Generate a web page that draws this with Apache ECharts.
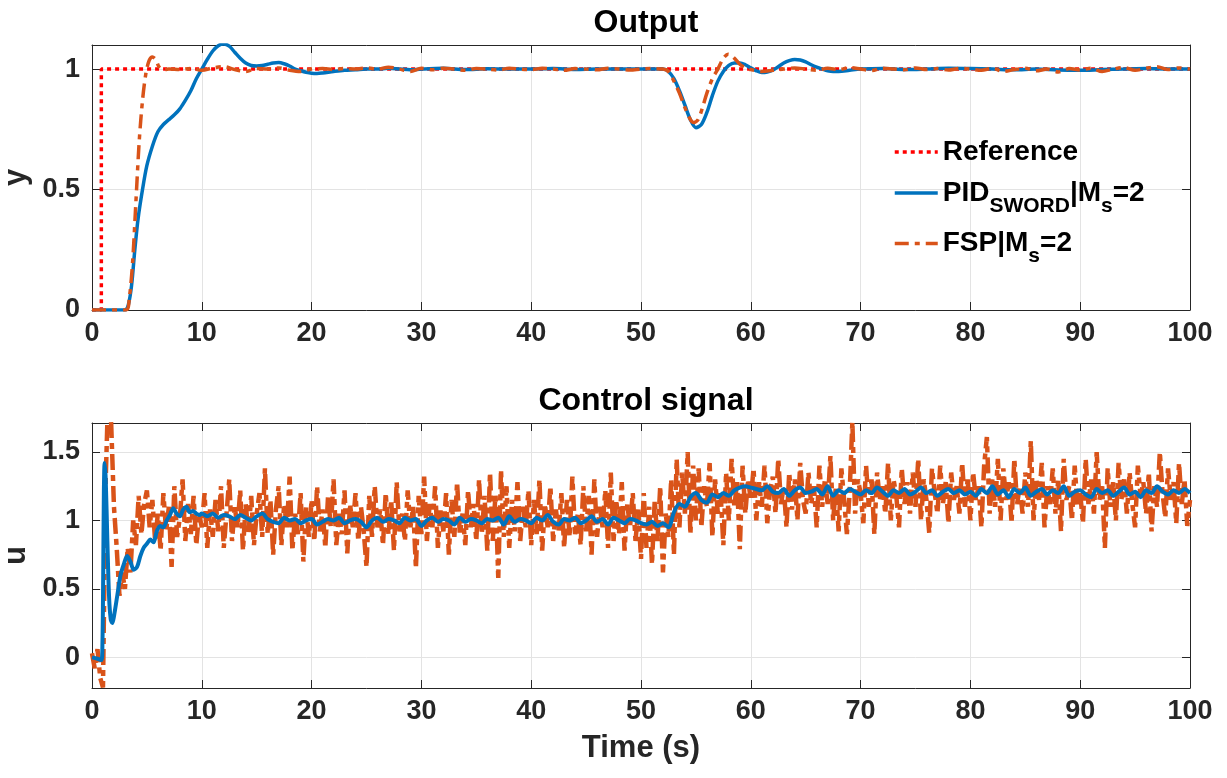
<!DOCTYPE html>
<html><head><meta charset="utf-8">
<script src="https://cdn.jsdelivr.net/npm/echarts@6/dist/echarts.min.js"></script>
<style>html,body{margin:0;padding:0;background:#fff}#c{width:1227px;height:778px}</style>
</head><body><div id="c"></div>
<script>
// ---------- data ----------
const xTickLabels = [0,10,20,30,40,50,60,70,80,90,100];
const yTickLabels = [0, 0.5, 1];
const uTickLabels = [0, 0.5, 1, 1.5];

const refT = [0, 0.85, 0.85, 100];
const refY = [0, 0, 1, 1];

const pidYT = [0,3.0,3.3,3.6,3.9,4.2,4.6,5.0,5.5,6.0,6.5,7.0,7.5,8.0,8.5,9.0,9.5,10.0,10.5,11.0,11.5,12.0,12.5,13.0,13.5,14.0,14.5,15.0,15.5,16.0,16.5,17.0,17.5,18.0,18.5,19.0,19.5,20.0,20.5,21.0,22,23,24,25,26,27,28,29,30,32,34,36,38,40,42,44,46,48,50,52,52.5,53,53.5,54,54.5,55,55.5,56,56.5,57,57.5,58,58.5,59,59.5,60,60.5,61,61.5,62,62.5,63,63.5,64,64.5,65,65.5,66,66.5,67,67.5,68,69,70,72,74,76,78,80,82,84,86,88,90,92,94,96,98,100];
const pidY  = [0,0,0.02,0.1,0.25,0.38,0.5,0.6,0.68,0.74,0.77,0.79,0.81,0.835,0.87,0.91,0.96,1.0,1.04,1.075,1.097,1.104,1.095,1.07,1.045,1.025,1.015,1.013,1.015,1.02,1.025,1.027,1.022,1.013,1.0,0.993,0.987,0.983,0.982,0.984,0.99,0.995,0.997,1.0,1.0,1.003,1.0,0.997,1.0,1.003,0.998,1.001,1.0,1.0,1.002,0.998,1.0,1.0,1.0,1.0,0.99,0.96,0.91,0.85,0.79,0.757,0.77,0.82,0.89,0.95,0.99,1.015,1.025,1.025,1.018,1.005,0.993,0.986,0.988,0.995,1.01,1.025,1.035,1.04,1.038,1.03,1.018,1.008,1.0,0.993,0.99,0.99,0.995,1.0,1.002,0.998,1.0,1.003,1.002,1.0,0.997,1.0,0.996,0.995,0.998,1.0,1.002,1.0,1.0];

const fspYT = [0,3.1,3.4,3.7,4.0,4.3,4.6,4.9,5.2,5.5,5.8,6.1,6.5,7,8,9,10,11,12,13,14,15,16,17,18,19,20,21,22,23,24,25,26,27,28,29,30,31,32,33,34,35,36,37,38,39,40,41,42,43,44,45,46,47,48,49,50,51,52,52.5,53,53.5,54,54.5,54.8,55.2,55.6,56,56.5,57,57.5,57.95,58.4,59,59.5,60,61,62,63,64,65,66,67,68,69,70,71,72,73,74,75,76,77,78,79,80,81,82,83,84,85,86,87,88,89,90,91,92,93,94,95,96,97,98,99,100];
const fspY  = [0,0,0.05,0.2,0.45,0.7,0.87,0.98,1.035,1.05,1.04,1.01,0.997,1.0,0.998,1.003,0.995,1.005,1.01,0.998,0.99,1.002,1.0,1.005,0.995,0.99,1.0,1.002,0.998,1.003,1.0,1.005,1.0,1.008,1.0,0.99,1.003,0.997,1.004,1.0,0.995,1.002,1.0,0.996,1.004,1.0,0.998,1.003,1.0,0.995,1.002,1.0,0.997,1.004,1.0,0.996,1.0,1.002,1.0,0.99,0.95,0.9,0.84,0.79,0.778,0.79,0.84,0.9,0.96,1.0,1.045,1.062,1.05,1.02,1.005,0.998,0.99,0.995,1.0,1.005,1.0,0.995,1.003,0.998,1.006,1.0,0.994,1.004,1.0,0.997,1.005,0.998,1.002,0.996,1.003,1.0,0.995,1.004,0.99,0.998,1.003,0.993,1.0,0.988,1.002,0.996,1.004,0.99,1.0,1.006,0.995,1.003,1.01,0.998,1.005,1.0,0.995,1.012,1.0,0.996,1.0];

// control signal, PID (early detail then 0.5 s samples from t = 10)
const pidUEarlyT = [0,0.5,0.85,0.95,1.02,1.08,1.15,1.25,1.4,1.55,1.7,1.85,2.0,2.3,2.6,2.9,3.2,3.5,3.8,4.1,4.4,4.7,5.0,5.3,5.6,5.9,6.2,6.5,6.8,7.1,7.4,7.7,8.0,8.3,8.6,8.9,9.2,9.5,9.8];
const pidUEarly  = [0,-0.01,-0.02,0.1,0.6,1.2,1.42,1.3,0.85,0.45,0.28,0.25,0.3,0.45,0.6,0.68,0.74,0.7,0.64,0.66,0.74,0.8,0.83,0.86,0.84,0.92,0.96,0.95,1.0,1.04,1.09,1.05,1.03,1.08,1.1,1.06,1.07,1.05,1.04];
const pidULateStart = 10, pidULateStep = 0.5;
const pidULate = [
1.05,1.03,1.05,1.02,1.04,1.03,1.01,1.04,1.02,1.0,1.03,1.05,1.01,0.99,0.98,1.02,1.0,1.01,0.98,1.0,
1.01,0.97,0.99,1.01,1.0,1.02,0.98,1.0,1.01,0.99,0.95,1.0,1.02,0.99,1.01,1.0,0.98,1.02,1.0,1.01,
0.96,1.0,1.02,0.99,1.01,1.0,0.97,1.02,0.99,1.01,1.0,0.98,1.01,1.0,1.02,0.97,1.03,0.99,1.01,1.0,
0.98,1.02,1.0,1.04,0.99,0.97,1.01,1.0,1.02,0.98,1.0,1.03,0.99,1.01,0.97,1.02,1.0,0.98,1.01,1.0,
0.98,0.97,0.99,0.96,0.98,0.95,1.06,1.12,1.1,1.17,1.2,1.15,1.13,1.19,1.17,1.2,1.18,1.22,1.24,1.25,
1.24,1.23,1.22,1.25,1.21,1.2,1.23,1.18,1.22,1.24,1.2,1.21,1.23,1.19,1.25,1.18,1.22,1.2,1.23,1.21,
1.19,1.22,1.2,1.24,1.21,1.18,1.22,1.2,1.23,1.19,1.21,1.24,1.2,1.22,1.18,1.21,1.23,1.2,1.22,1.19,
1.21,1.18,1.23,1.2,1.25,1.19,1.22,1.17,1.23,1.2,1.24,1.18,1.21,1.23,1.19,1.22,1.2,1.25,1.18,1.21,
1.22,1.19,1.17,1.23,1.2,1.22,1.18,1.21,1.24,1.19,1.21,1.17,1.22,1.2,1.25,1.21,1.19,1.22,1.2,1.23,
1.2];

// control signal, FSP (0.25 s samples from t = 0)
const fspUStart = 0, fspUStep = 0.25;
const fspU = [
0.03,-0.08,0.06,-0.15,-0.22,1.3,2.0,1.7,1.1,0.8,0.45,0.62,0.5,0.8,0.62,1.0,0.82,1.18,0.9,1.12,
1.22,0.95,1.15,0.85,1.05,0.78,1.2,0.92,1.1,0.66,1.25,0.88,1.02,1.3,0.85,1.12,0.9,1.18,0.82,1.05,
0.95,1.2,0.8,1.08,0.88,1.15,0.92,1.25,0.8,1.05,1.3,0.85,1.1,0.95,1.22,0.78,1.12,0.9,1.18,0.82,
1.05,1.2,0.88,1.38,0.9,1.15,0.75,1.08,1.25,0.82,1.12,0.95,1.32,0.78,1.05,0.9,1.2,0.7,1.1,0.88,
1.15,0.85,1.25,0.92,1.08,0.8,1.18,0.95,1.3,0.82,1.05,0.9,1.22,0.76,1.12,0.95,1.2,0.85,1.1,0.92,
0.66,1.18,0.88,1.25,0.95,1.08,0.82,1.2,0.9,1.15,0.78,1.28,0.92,1.05,0.85,1.22,0.95,1.1,0.65,1.18,
0.9,1.32,0.85,1.12,0.95,1.25,0.8,1.08,0.92,1.2,0.75,1.15,0.88,1.28,0.9,1.05,0.82,1.22,0.95,1.12,
0.85,1.3,0.9,1.18,0.78,1.35,0.85,1.2,0.58,1.37,0.88,1.25,0.8,1.15,0.92,1.28,0.85,1.1,0.95,1.22,
0.82,1.15,0.9,1.3,0.78,1.12,0.95,1.25,0.85,1.08,0.92,1.2,0.8,1.15,0.88,1.32,0.9,1.05,0.82,1.25,
0.92,1.18,0.75,1.3,0.88,1.1,0.95,1.22,0.8,1.35,0.85,1.15,0.9,1.28,0.78,1.12,0.95,1.2,0.85,1.08,
0.72,1.2,0.8,1.1,0.68,1.15,0.85,1.25,0.62,1.05,0.88,1.3,0.75,1.45,0.95,1.35,1.05,1.5,0.9,1.4,
1.0,1.38,0.95,1.25,1.1,1.42,0.88,1.3,1.05,1.2,0.82,1.35,1.0,1.45,1.1,1.28,0.79,1.4,1.05,1.3,
1.15,1.38,1.0,1.28,1.1,1.4,0.98,1.22,1.32,1.05,1.45,1.12,1.25,0.95,1.35,1.08,1.3,1.0,1.42,1.15,
1.05,1.35,1.12,1.25,0.95,1.4,1.1,1.3,1.12,1.47,1.0,1.25,0.92,1.38,1.15,0.9,1.2,1.72,1.05,1.3,
1.2,0.98,1.4,1.1,1.3,0.9,1.35,1.15,1.25,1.05,1.42,1.0,1.3,1.18,0.95,1.38,1.12,1.28,1.05,1.35,
1.1,1.45,1.0,1.3,1.15,0.91,1.38,1.2,1.05,1.4,1.12,1.28,0.98,1.35,1.15,1.25,1.05,1.42,1.1,1.3,
1.0,1.35,1.15,1.25,0.95,1.4,1.61,1.05,1.3,1.1,1.45,1.0,1.38,1.15,1.28,0.98,1.45,1.12,1.25,1.05,
1.35,1.1,1.58,1.0,1.3,1.15,1.42,0.95,1.25,1.12,1.38,1.05,1.3,0.92,1.45,1.15,1.25,1.0,1.4,1.1,
1.2,0.98,1.45,1.12,1.3,1.05,1.5,1.15,1.25,0.8,1.38,1.1,1.28,1.0,1.42,1.15,1.3,1.05,1.35,1.12,
0.95,1.4,1.18,1.28,1.05,1.35,0.92,1.25,1.1,1.5,1.2,1.02,1.38,1.15,1.28,0.98,1.42,1.12,1.3,0.96,
1.15];

const names = ['Reference', 'PID_SWORD|M_s=2', 'FSP|M_s=2'];

// ---------- build ----------
const zip = (t, v) => t.map((x, i) => [x, v[i]]);
const seq = (start, step, v) => v.map((y, i) => [start + i * step, y]);
const pidUData = zip(pidUEarlyT, pidUEarly).concat(seq(pidULateStart, pidULateStep, pidULate));
const fspUData = seq(fspUStart, fspUStep, fspU);

const FONT = '"Liberation Sans", Arial, Helvetica, sans-serif';
const AX = '#262626', GRIDC = '#e3e3e3';
const BLUE = '#0072BD', ORANGE = '#D95319', RED = '#FF0000';
const DASHDOT = [14, 6, 5, 6];

const labelStyle = {fontSize: 27, fontWeight: 'bold', color: AX, fontFamily: FONT};

function xAxes(gi, withName) {
  return [{
    type: 'value', gridIndex: gi, position: 'bottom', min: 0, max: 100, interval: 10,
    axisLine: {show: true, onZero: false, lineStyle: {color: AX, width: 1}},
    axisTick: {show: true, inside: true, length: 8, lineStyle: {color: AX}},
    axisLabel: Object.assign({margin: 10}, labelStyle),
    splitLine: {show: true, lineStyle: {color: GRIDC, width: 1}},
    name: withName ? 'Time (s)' : '', nameLocation: 'middle', nameGap: 45,
    nameTextStyle: {fontSize: 31, fontWeight: 'bold', color: AX, fontFamily: FONT}
  }, {
    type: 'value', gridIndex: gi, position: 'top', min: 0, max: 100, interval: 10,
    axisLine: {show: true, onZero: false, lineStyle: {color: AX, width: 1}},
    axisTick: {show: true, inside: true, length: 8, lineStyle: {color: AX}},
    axisLabel: {show: false}, splitLine: {show: false}
  }];
}
function yAxes(gi, min, max, ticks, name) {
  return [{
    type: 'value', gridIndex: gi, position: 'left', min: min, max: max,
    axisLine: {show: true, onZero: false, lineStyle: {color: AX, width: 1}},
    axisTick: {show: true, inside: true, length: 8, lineStyle: {color: AX}, customValues: ticks},
    axisLabel: Object.assign({margin: 12, customValues: ticks}, labelStyle),
    splitLine: {show: true, lineStyle: {color: GRIDC, width: 1}},
    name: name, nameLocation: 'middle', nameGap: 49, nameRotate: 90,
    nameTextStyle: {fontSize: 31, fontWeight: 'bold', color: AX, fontFamily: FONT}
  }, {
    type: 'value', gridIndex: gi, position: 'right', min: min, max: max,
    axisLine: {show: true, onZero: false, lineStyle: {color: AX, width: 1}},
    axisTick: {show: true, inside: true, length: 8, lineStyle: {color: AX}, customValues: ticks},
    axisLabel: {show: false, customValues: ticks}, splitLine: {show: false}
  }];
}

const chart = echarts.init(document.getElementById('c'), null, {renderer: 'canvas'});
chart.setOption({
  backgroundColor: '#fff',
  animation: false,
  title: [
    {text: 'Output', left: 641, top: 2, textAlign: 'center',
     textStyle: {fontSize: 32, fontWeight: 'bold', color: '#000', fontFamily: FONT}},
    {text: 'Control signal', left: 641, top: 380, textAlign: 'center',
     textStyle: {fontSize: 32, fontWeight: 'bold', color: '#000', fontFamily: FONT}}
  ],
  grid: [
    {left: 92, top: 45, width: 1098, height: 265, containLabel: false, outerBoundsMode: 'none'},
    {left: 92, top: 423, width: 1098, height: 265, containLabel: false, outerBoundsMode: 'none'}
  ],
  xAxis: xAxes(0, false).concat(xAxes(1, true)),
  yAxis: yAxes(0, 0, 1.1, yTickLabels, 'y').concat(yAxes(1, -0.224, 1.712, uTickLabels, 'u')),
  legend: {
    orient: 'vertical', left: 893, top: 138, padding: 0, itemWidth: 43, itemHeight: 14, itemGap: 13,
    data: names, selectedMode: false,
    itemStyle: {color: 'rgba(0,0,0,0)', borderColor: 'rgba(0,0,0,0)', borderWidth: 0, opacity: 0},
    lineStyle: {width: 3.5},
    textStyle: {fontSize: 28, fontWeight: 'bold', color: '#000', fontFamily: FONT,
      rich: {
        n: {fontSize: 28, fontWeight: 'bold', color: '#000', fontFamily: FONT},
        s: {fontSize: 21, fontWeight: 'bold', color: '#000', fontFamily: FONT, padding: [26, 0, 0, 0]}
      }},
    formatter: function (nm) {
      if (nm === names[0]) return '{n|Reference}';
      if (nm === names[1]) return '{n|PID}{s|SWORD}{n||M}{s|s}{n|=2}';
      return '{n|FSP|M}{s|s}{n|=2}';
    }
  },
  series: [
    {name: names[0], type: 'line', xAxisIndex: 0, yAxisIndex: 0, data: zip(refT, refY), symbol: 'none', z: 2,
     lineStyle: {color: RED, width: 3.5, type: [4, 4]}, itemStyle: {color: RED}},
    {name: names[1], type: 'line', xAxisIndex: 0, yAxisIndex: 0, data: zip(pidYT, pidY), symbol: 'none', smooth: 0.3, z: 3,
     lineStyle: {color: BLUE, width: 3.5}, itemStyle: {color: BLUE}},
    {name: names[2], type: 'line', xAxisIndex: 0, yAxisIndex: 0, data: zip(fspYT, fspY), symbol: 'none', smooth: 0.3, z: 4,
     lineStyle: {color: ORANGE, width: 3.5, type: DASHDOT}, itemStyle: {color: ORANGE}},
    {name: names[2], type: 'line', xAxisIndex: 2, yAxisIndex: 2, data: fspUData, symbol: 'none', z: 3,
     lineStyle: {color: ORANGE, width: 4.5, type: [16, 5, 6, 5]}, itemStyle: {color: ORANGE}},
    {name: names[1], type: 'line', xAxisIndex: 2, yAxisIndex: 2, data: pidUData, symbol: 'none', smooth: 0.3, z: 4,
     lineStyle: {color: BLUE, width: 4}, itemStyle: {color: BLUE}}
  ]
});
</script>
</body></html>
